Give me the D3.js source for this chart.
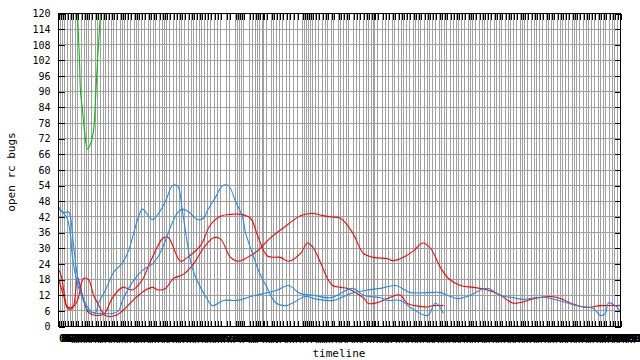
<!DOCTYPE html>
<html>
<head>
<meta charset="utf-8">
<script src="https://cdn.jsdelivr.net/npm/d3@7.9.0/dist/d3.min.js"></script>
<style>
  body { margin: 0; background: #fff; }
  svg { display: block; }
  text { font-family: "DejaVu Sans Mono", monospace; fill: #000; }
</style>
</head>
<body>
<svg id="chart" width="640" height="360"></svg>
<script>
// ========= data =========
// days since the first snapshot, one tick per snapshot
const tickDays = [
  0, 2, 4, 6, 9, 12, 14, 17, 19, 23, 26, 28, 30, 33, 37, 39, 42, 45, 47, 50, 53, 55, 58, 62, 64, 66,
  69, 72, 76, 78, 80, 83, 86, 90, 92, 95, 97, 101, 104, 106, 108, 111, 115, 118, 121, 123, 126, 130,
  133, 135, 138, 141, 143, 146, 149, 152, 156, 159, 162, 168, 171, 177, 179, 181, 183, 185, 191, 194,
  197, 199, 201, 204, 205, 208, 213, 215, 218, 221, 224, 228, 231, 235, 239, 244, 246, 248, 250, 252,
  254, 257, 260, 264, 267, 269, 273, 275, 280, 282, 285, 288, 290, 295, 298, 301, 305, 308, 310, 313,
  315, 316, 319, 324, 327, 330, 334, 336, 340, 343, 345, 348, 351, 355, 357, 360, 362, 366, 369, 371,
  374, 377, 381, 383, 386, 388, 392, 395, 398, 400, 403, 406, 410, 412, 414, 417, 421, 424, 426, 429,
  432, 436, 438, 441, 443, 447, 450, 452, 455, 458, 462, 464, 466, 469, 473, 476, 478, 481, 484, 488,
  490, 493, 495, 499, 502, 504, 507, 510, 514, 516, 518, 521, 525, 528, 530, 533, 536, 540, 542, 545,
  547, 551, 554, 556, 559, 562
];
const startDate = new Date(2005, 5, 6);
const fmt = d3.timeFormat("%m/%d");
const tickLabels = tickDays.map((d) => fmt(d3.timeDay.offset(startDate, d)));

const yTicks = [0, 6, 12, 18, 24, 30, 36, 42, 48, 54, 60, 66, 72, 78, 84, 90, 96, 102, 108, 114, 120];

// [day, open rc bugs]
const redA = [
  [0, 22], [3, 19], [6, 12], [9, 7], [14, 7], [19, 19], [22, 15], [26, 9], [30, 5.4], [40, 4.2],
  [46, 5], [54, 11], [64, 15], [74, 14], [84, 18], [92, 25], [105, 34], [110, 34], [122, 25],
  [129, 26.5], [142, 31], [152, 39], [162, 42.3], [172, 43], [182, 43], [192, 41.5], [199, 35],
  [209, 27], [222, 26.5], [230, 25], [242, 28], [249, 32], [255, 30], [262, 24.5], [269, 18.4],
  [274, 15.7], [282, 15], [289, 14.6], [297, 13], [305, 11], [310, 8.8], [319, 9.2], [329, 10.7],
  [337, 12], [342, 12], [349, 8.8], [362, 7.7], [369, 7.5], [375, 8], [385, 8]
];
const redB = [
  [0, 18], [5, 12], [9, 7.5], [14, 7.5], [19, 10], [25, 18.4], [30, 18], [35, 12], [39, 9],
  [47, 4.2], [57, 4.2], [64, 6], [77, 11], [87, 14], [94, 15], [100, 14], [107, 14.6], [115, 18.4],
  [125, 20], [135, 24], [145, 30], [155, 34], [162, 33.6], [172, 26.5], [180, 25], [189, 26.5],
  [199, 29], [212, 34], [229, 39], [242, 42.5], [255, 43.3], [264, 42.5], [272, 42], [282, 41.5],
  [294, 36], [305, 28], [315, 26.5], [329, 26], [334, 25.3], [342, 26], [355, 29], [364, 32],
  [372, 30], [382, 22.6], [390, 18.4], [402, 15.7], [415, 15], [429, 14], [442, 12], [454, 9],
  [462, 9.2], [475, 10.7], [492, 11.5], [502, 10.7], [515, 8.5], [529, 7.3], [542, 8], [562, 8]
];
const blueA = [
  [0, 46], [4, 44], [7, 43.7], [10, 44], [12, 42], [14, 35], [16, 28], [19, 19], [24, 11], [30, 6],
  [37, 5.4], [40, 9], [47, 14], [55, 20.7], [64, 24.5], [70, 29], [75, 35.6], [80, 42], [84, 45],
  [94, 41], [100, 43.3], [107, 48], [114, 54], [119, 54], [124, 44], [128, 34], [132, 25], [137, 19],
  [142, 15], [148, 11], [154, 8], [165, 10], [179, 10], [192, 11.5], [205, 12.6], [219, 14],
  [230, 15.7], [242, 12.6], [255, 12], [272, 11], [294, 14.6], [305, 12], [322, 11], [329, 10],
  [342, 10], [352, 7.3], [369, 4.2], [377, 9], [385, 5]
];
const blueB = [
  [0, 45], [8, 42], [12, 35], [14, 26.5], [20, 15], [27, 8.8], [34, 5.4], [44, 5], [54, 5], [60, 6],
  [64, 10], [74, 17], [84, 21.5], [94, 24], [100, 27], [107, 33], [114, 40], [120, 44], [124, 45],
  [130, 44], [139, 41], [145, 41.5], [149, 44.5], [157, 49.5], [164, 54], [170, 54], [177, 48],
  [184, 42], [187, 36], [194, 28], [200, 21.5], [209, 14.6], [217, 9.2], [227, 8], [235, 9.2],
  [247, 11.5], [259, 10.4], [275, 10], [292, 12.6], [309, 14], [322, 14.6], [337, 15.7], [352, 13],
  [369, 13], [382, 13], [392, 11.5], [399, 10.7], [412, 12], [422, 14], [430, 14.6], [437, 13],
  [442, 12], [455, 11], [465, 10.4], [477, 11], [489, 11], [500, 10], [509, 9], [522, 7.7],
  [535, 6.9], [542, 4.2], [547, 5], [550, 9], [559, 7.3], [562, 5]
];
const green = [
  [15, 160], [19, 120], [21, 102], [22, 90], [24, 83], [26, 75], [29, 68], [32, 70], [35, 75],
  [37, 87], [39, 102], [41, 114], [42, 120], [46, 160]
];

const series = [
  { name: "green", color: "#00c000", values: green },
  { name: "redA", color: "#ff0000", values: redA },
  { name: "redB", color: "#ff0000", values: redB },
  { name: "blueA", color: "#1e8cf0", values: blueA },
  { name: "blueB", color: "#1e8cf0", values: blueB },
];

// ========= layout =========
const plotL = 58.5, plotR = 620.5, plotT = 13.5, plotB = 326.5;
const svg = d3.select("#chart");

const x = d3.scaleLinear().domain([0, 562]).range([plotL, plotR]);
const y = d3.scaleLinear().domain([0, 120]).range([plotB, plotT]);

// ---- grid ----
const grid = svg.append("g").attr("shape-rendering", "crispEdges");
grid.selectAll("line.v")
  .data(tickDays)
  .join("line")
  .attr("class", "v")
  .attr("x1", (d) => x(d)).attr("x2", (d) => x(d))
  .attr("y1", plotT).attr("y2", plotB)
  .attr("stroke", "#a0a0a0");
grid.selectAll("line.h")
  .data(yTicks)
  .join("line")
  .attr("class", "h")
  .attr("x1", plotL).attr("x2", plotR)
  .attr("y1", (d) => y(d)).attr("y2", (d) => y(d))
  .attr("stroke", "#a0a0a0");

// ---- lines ----
svg.append("clipPath").attr("id", "plot-clip")
  .append("rect")
  .attr("x", plotL).attr("y", plotT)
  .attr("width", plotR - plotL).attr("height", plotB - plotT);

const line = d3.line()
  .x((d) => x(d[0]))
  .y((d) => y(d[1]))
  .curve(d3.curveCatmullRom.alpha(0.5));

svg.append("g")
  .attr("clip-path", "url(#plot-clip)")
  .selectAll("path")
  .data(series)
  .join("path")
  .attr("d", (d) => line(d.values))
  .attr("fill", "none")
  .attr("stroke", (d) => d.color)
  .attr("stroke-width", 1.1);

// ---- axes ----
function styleAxis(g) {
  g.attr("shape-rendering", "crispEdges");
  g.select(".domain").remove();
  g.selectAll(".tick line").attr("stroke", "#000");
}

svg.append("g")
  .attr("transform", `translate(0,${plotB})`)
  .call(d3.axisBottom(x).tickValues(tickDays).tickSize(-6).tickPadding(8)
    .tickFormat((d, i) => tickLabels[i]))
  .call(styleAxis)
  .call((g) => g.selectAll(".tick text")
    .attr("text-anchor", "start")
    .attr("font-size", 10)
    .attr("font-weight", "bold")
    .attr("font-family", "DejaVu Sans Mono"));

svg.append("g")
  .attr("transform", `translate(0,${plotT})`)
  .call(d3.axisTop(x).tickValues(tickDays).tickSize(-6).tickFormat(""))
  .call(styleAxis);

svg.append("g")
  .attr("transform", `translate(${plotL},0)`)
  .call(d3.axisLeft(y).tickValues(yTicks).tickSize(-6).tickPadding(8))
  .call(styleAxis)
  .call((g) => g.selectAll(".tick text")
    .attr("font-size", 10)
    .attr("font-family", "DejaVu Sans Mono"));

svg.append("g")
  .attr("transform", `translate(${plotR},0)`)
  .call(d3.axisRight(y).tickValues(yTicks).tickSize(-6).tickFormat(""))
  .call(styleAxis);

// plot border
svg.append("rect")
  .attr("x", plotL).attr("y", plotT)
  .attr("width", plotR - plotL).attr("height", plotB - plotT)
  .attr("fill", "none")
  .attr("stroke", "#000")
  .attr("shape-rendering", "crispEdges");

// ---- titles ----
svg.append("text")
  .attr("x", 339).attr("y", 357)
  .attr("text-anchor", "middle")
  .attr("font-size", 11)
  .text("timeline");

svg.append("text")
  .attr("transform", "translate(15,172) rotate(-90)")
  .attr("text-anchor", "middle")
  .attr("font-size", 11)
  .text("open rc bugs");
</script>
</body>
</html>
